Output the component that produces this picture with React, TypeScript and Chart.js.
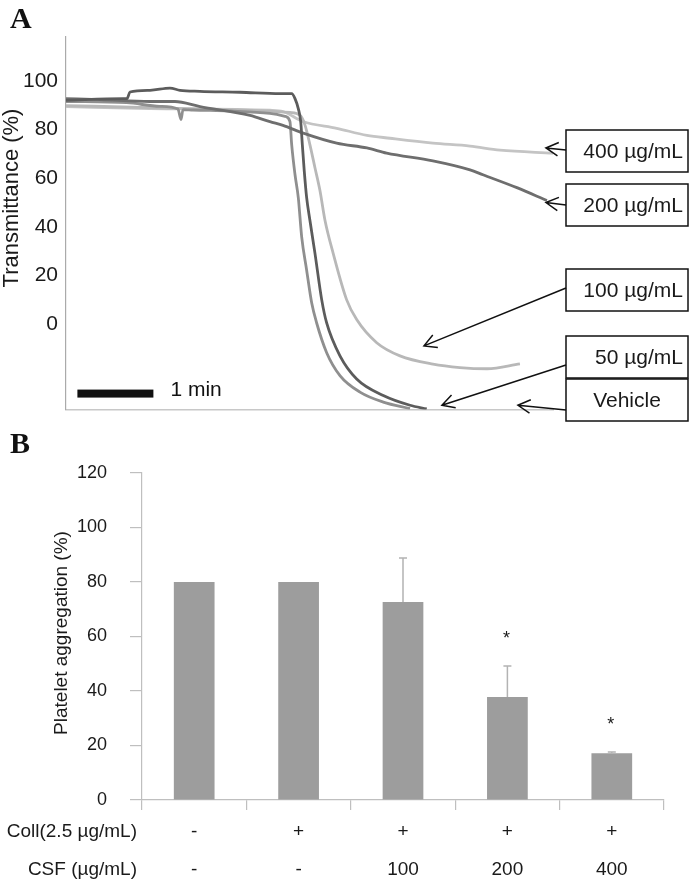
import React, { useEffect, useRef } from "react";
import { Chart, registerables } from "chart.js";

Chart.register(...registerables);

const FONT = "'Liberation Sans', Arial, Helvetica, sans-serif";
const SERIF = "'Liberation Serif', 'Times New Roman', serif";

// ---------------- Panel A data (time in s, transmittance in %) ----------------
const Y_TICKS_A = [0, 20, 40, 60, 80, 100];

const T_50 = [0, 45, 48.2, 50.5, 66.3, 82.1, 90, 105.8, 137.4, 169, 178.2, 180.8, 183.4, 185.3, 186.6, 188.1, 190, 192.6, 196.6, 201.9, 205.8, 216.3, 229.5, 250.5, 271.6, 284.8];
const V_50 = [92.0, 92.7, 92.7, 95.4, 96.1, 97.0, 96.1, 95.7, 95.3, 94.7, 94.7, 92.7, 88.6, 83.3, 73.7, 63, 52, 42.6, 29, 10, 0.5, -13, -22.5, -29.3, -33.3, -34.8];

const T_200 = [0, 26.8, 66.3, 86, 105.8, 145.3, 161, 171.3, 187.3, 213.7, 237.6, 253.2, 289.7, 319, 329.2, 356, 379.7];
const V_200 = [92.7, 92.3, 91.5, 91.5, 89.4, 85.8, 83.2, 81.7, 78.5, 74.4, 72.4, 70.3, 67.1, 63.4, 61.4, 56.1, 50.8];

const T_VEH = [0, 47.9, 74.2, 88.4, 90.8, 92.4, 100.3, 129.5, 161, 172.9, 176.8, 178.2, 180.8, 183.4, 186.1, 190, 194, 197.9, 205.8, 216.3, 232.1, 250.5, 271.6];
const V_VEH = [91.5, 91.0, 89.5, 88.4, 84.1, 88.2, 88.0, 87.6, 86.6, 85.4, 83.3, 73.7, 61.5, 52, 35.8, 22.2, 8.7, 0.5, -11.7, -21.1, -27.9, -32, -34.7];

const T_100 = [0, 66.3, 145.3, 176.8, 184.7, 188.7, 192.6, 196.6, 200.5, 204.5, 211, 221.6, 229.5, 245.3, 263.7, 289.7, 311, 332.4, 358.4];
const V_100 = [89.8, 89, 87.8, 87, 85.9, 81.8, 73.7, 64.2, 54.9, 42.6, 29, 10, 1.9, -7.6, -13, -16.4, -17.8, -18.3, -16.3];

const T_400 = [0, 66.3, 161, 171.3, 187.1, 213.7, 237.6, 255.8, 289.7, 319, 342.6, 384.5];
const V_400 = [89.4, 88.6, 87.9, 87.4, 83.3, 80.5, 77.6, 76.4, 74.4, 73.2, 71.5, 70.3];

const TRACE_LABELS = ["400 µg/mL", "200 µg/mL", "100 µg/mL", "50 µg/mL", "Vehicle"];
const ARROW_TIP_T = [378.9, 378.9, 282.6, 296.8, 356.8];
const ARROW_TIP_V = [72.4, 50, -8.9, -33.3, -33.3];
const SCALE_BAR_T = [9, 69]; // 1 min
const SCALE_BAR_V = -28.5;

// ---------------- Panel B data ----------------
const COLL_ROW = ["-", "+", "+", "+", "+"];
const CSF_ROW = ["-", "-", "100", "200", "400"];
const AGGREGATION = [80, 80, 72.7, 37.8, 17.2];
const AGG_ERR = [0, 0, 16.1, 11.4, 0.4];
const SIGNIFICANT = [false, false, false, true, true];

// ---------------- layout (pixels) ----------------
const W = 689;
const HA = 430;
const B_TOP = 420;
const HB = 882 - B_TOP;
const BOX_X = 566;
const BOX_W = 122;
const BOX_H = 42;
const BOX_TOPS = [130, 184, 269, 336, 379];
const ARROW_START_Y = [150, 205, 288, 365, 410];

function pts(t: number[], v: number[]) {
  return t.map((x, i) => ({ x, y: v[i] }));
}

function arrow(ctx: CanvasRenderingContext2D, x0: number, y0: number, x1: number, y1: number) {
  ctx.beginPath();
  ctx.moveTo(x0, y0);
  ctx.lineTo(x1, y1);
  const ang = Math.atan2(y0 - y1, x0 - x1);
  const L = 14;
  const a = 0.5;
  ctx.moveTo(x1 + L * Math.cos(ang + a), y1 + L * Math.sin(ang + a));
  ctx.lineTo(x1, y1);
  ctx.lineTo(x1 + L * Math.cos(ang - a), y1 + L * Math.sin(ang - a));
  ctx.stroke();
}

const annotA = {
  id: "annotA",
  afterDraw(chart: any) {
    const ctx: CanvasRenderingContext2D = chart.ctx;
    const xs = chart.scales.x;
    const ys = chart.scales.y;
    ctx.save();
    ctx.fillStyle = "#111";
    ctx.font = `bold 30px ${SERIF}`;
    ctx.textAlign = "left";
    ctx.textBaseline = "alphabetic";
    ctx.fillText("A", 10, 28);

    ctx.save();
    ctx.translate(18, 198);
    ctx.rotate(-Math.PI / 2);
    ctx.font = `22px ${FONT}`;
    ctx.textAlign = "center";
    ctx.fillStyle = "#1a1a1a";
    ctx.fillText("Transmittance (%)", 0, 0);
    ctx.restore();

    // scale bar
    const x0 = xs.getPixelForValue(SCALE_BAR_T[0]);
    const x1 = xs.getPixelForValue(SCALE_BAR_T[1]);
    const yb = ys.getPixelForValue(SCALE_BAR_V);
    ctx.fillStyle = "#111";
    ctx.fillRect(x0, yb - 4, x1 - x0, 8);
    ctx.font = `21px ${FONT}`;
    ctx.textAlign = "left";
    ctx.textBaseline = "middle";
    ctx.fillText("1 min", x1 + 17, yb - 3);

    // boxes and arrows
    ctx.strokeStyle = "#111";
    ctx.lineWidth = 1.5;
    TRACE_LABELS.forEach((lab, i) => {
      const top = BOX_TOPS[i];
      ctx.strokeRect(BOX_X, top, BOX_W, BOX_H);
      ctx.fillStyle = "#1a1a1a";
      ctx.font = `21px ${FONT}`;
      ctx.textBaseline = "middle";
      if (i === TRACE_LABELS.length - 1) {
        ctx.textAlign = "center";
        ctx.fillText(lab, BOX_X + BOX_W / 2, top + BOX_H / 2 + 1);
      } else {
        ctx.textAlign = "right";
        ctx.fillText(lab, BOX_X + BOX_W - 5, top + BOX_H / 2 + 1);
      }
      const tx = xs.getPixelForValue(ARROW_TIP_T[i]);
      const ty = ys.getPixelForValue(ARROW_TIP_V[i]);
      arrow(ctx, BOX_X, ARROW_START_Y[i], tx, ty);
    });
    ctx.restore();
  },
};

const annotB = {
  id: "annotB",
  afterDraw(chart: any) {
    const ctx: CanvasRenderingContext2D = chart.ctx;
    const xs = chart.scales.x;
    const ys = chart.scales.y;
    ctx.save();
    ctx.fillStyle = "#111";
    ctx.font = `bold 30px ${SERIF}`;
    ctx.textAlign = "left";
    ctx.textBaseline = "alphabetic";
    ctx.fillText("B", 10, 453 - B_TOP);

    ctx.save();
    ctx.translate(67, 633 - B_TOP);
    ctx.rotate(-Math.PI / 2);
    ctx.font = `19px ${FONT}`;
    ctx.textAlign = "center";
    ctx.fillStyle = "#1a1a1a";
    ctx.fillText("Platelet aggregation (%)", 0, 0);
    ctx.restore();

    // row titles
    const row1 = xs.top + 10 + 3 + 19;
    ctx.font = `19px ${FONT}`;
    ctx.textAlign = "right";
    ctx.textBaseline = "middle";
    ctx.fillStyle = "#1a1a1a";
    ctx.fillText("Coll(2.5 µg/mL)", 137, row1);
    ctx.fillText("CSF (µg/mL)", 137, row1 + 38);

    // error bars + significance
    AGGREGATION.forEach((v, i) => {
      const x = xs.getPixelForValue(i);
      const yv = ys.getPixelForValue(v);
      const yt = ys.getPixelForValue(v + AGG_ERR[i]);
      if (AGG_ERR[i] > 0) {
        ctx.strokeStyle = "#b3b3b3";
        ctx.lineWidth = 1.5;
        ctx.beginPath();
        ctx.moveTo(x, yv);
        ctx.lineTo(x, yt);
        ctx.moveTo(x - 4, yt);
        ctx.lineTo(x + 4, yt);
        ctx.stroke();
      }
      if (SIGNIFICANT[i]) {
        ctx.fillStyle = "#1a1a1a";
        ctx.font = `18px ${FONT}`;
        ctx.textAlign = "center";
        ctx.textBaseline = "alphabetic";
        ctx.fillText("*", x - 1, yt - 22);
      }
    });
    ctx.restore();
  },
};

export default function App() {
  const refA = useRef<HTMLCanvasElement>(null);
  const refB = useRef<HTMLCanvasElement>(null);

  useEffect(() => {
    Chart.defaults.font.family = FONT;
    Chart.defaults.color = "#222";

    const traces = [
      { label: "50 µg/mL", data: pts(T_50, V_50), color: "#5c5c5c" },
      { label: "200 µg/mL", data: pts(T_200, V_200), color: "#6e6e6e" },
      { label: "Vehicle", data: pts(T_VEH, V_VEH), color: "#8f8f8f" },
      { label: "100 µg/mL", data: pts(T_100, V_100), color: "#b8b8b8" },
      { label: "400 µg/mL", data: pts(T_400, V_400), color: "#c4c4c4" },
    ];

    const chartA = new Chart(refA.current!, {
      type: "line",
      data: {
        datasets: traces.map((t) => ({
          label: t.label,
          data: t.data,
          borderColor: t.color,
          borderWidth: 2.8,
          pointRadius: 0,
          cubicInterpolationMode: "monotone" as const,
          fill: false,
        })),
      },
      options: {
        animation: false,
        responsive: false,
        events: [],
        layout: { padding: { top: 37, right: W - 553, left: 0, bottom: 0 } },
        plugins: { legend: { display: false }, tooltip: { enabled: false }, title: { display: false } },
        scales: {
          x: {
            type: "linear",
            min: 0,
            max: 384.5,
            grid: { display: false, drawTicks: false },
            border: { display: true, color: "#c8c8c8", width: 1.5 },
            ticks: { display: false },
            afterFit: (s: any) => {
              s.height = HA - 414;
            },
          },
          y: {
            min: -35,
            max: 118,
            grid: { display: false, drawTicks: false },
            border: { display: true, color: "#aaaaaa", width: 1.2 },
            ticks: { padding: 8, font: { size: 21 }, color: "#1a1a1a" },
            afterBuildTicks: (s: any) => {
              s.ticks = Y_TICKS_A.map((v) => ({ value: v }));
            },
            afterFit: (s: any) => {
              s.width = 66;
            },
          },
        },
      },
      plugins: [annotA],
    });

    const labels = COLL_ROW.map((c, i) => [c, CSF_ROW[i]]);
    const chartB = new Chart(refB.current!, {
      type: "bar",
      data: {
        labels,
        datasets: [
          {
            label: "Platelet aggregation",
            data: AGGREGATION,
            backgroundColor: "#9d9d9d",
            borderWidth: 0,
            barPercentage: 0.39,
            categoryPercentage: 1,
          },
        ],
      },
      options: {
        animation: false,
        responsive: false,
        events: [],
        layout: { padding: { top: 473 - B_TOP, right: W - 664, left: 0, bottom: 0 } },
        plugins: { legend: { display: false }, tooltip: { enabled: false }, title: { display: false } },
        scales: {
          x: {
            grid: {
              display: true,
              offset: true,
              drawOnChartArea: false,
              drawTicks: true,
              tickLength: 10,
              color: "#bfbfbf",
              lineWidth: 1.2,
            },
            border: { display: true, color: "#bfbfbf", width: 1.2 },
            ticks: { padding: 3, font: { size: 19, lineHeight: 2 }, color: "#1a1a1a", maxRotation: 0 },
            afterFit: (s: any) => {
              s.height = HB - (800 - B_TOP);
            },
          },
          y: {
            min: 0,
            max: 120,
            ticks: { stepSize: 20, padding: 23, font: { size: 18 }, color: "#1a1a1a" },
            grid: {
              display: true,
              drawOnChartArea: false,
              drawTicks: true,
              tickLength: 12,
              color: "#bfbfbf",
              lineWidth: 1.2,
            },
            border: { display: true, color: "#bfbfbf", width: 1.2 },
            afterFit: (s: any) => {
              s.width = 142;
            },
          },
        },
      },
      plugins: [annotB],
    });

    return () => {
      chartA.destroy();
      chartB.destroy();
    };
  }, []);

  return (
    <div style={{ position: "absolute", left: 0, top: 0, width: W, height: 882, background: "#fff" }}>
      <canvas ref={refA} width={W} height={HA} style={{ position: "absolute", left: 0, top: 0, display: "block" }} />
      <canvas ref={refB} width={W} height={HB} style={{ position: "absolute", left: 0, top: B_TOP, display: "block" }} />
    </div>
  );
}
